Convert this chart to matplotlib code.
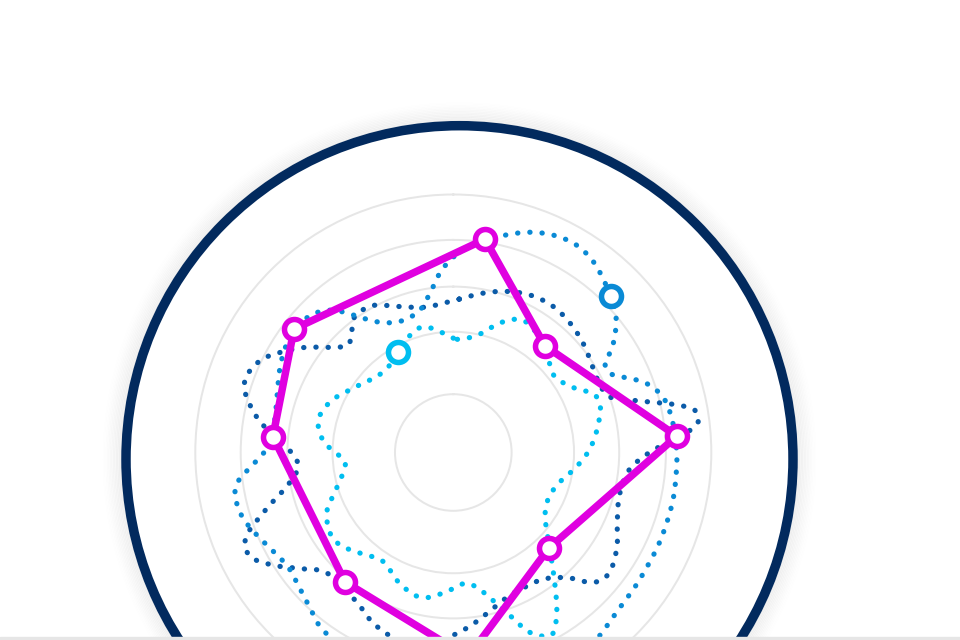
import numpy as np
import matplotlib
matplotlib.use("Agg")
import matplotlib.pyplot as plt
from matplotlib.patches import Circle, Rectangle

# ---------------- data (angle: degrees clockwise from north, value: radial scale) -------------
grid_levels = [22.6, 46.8, 64.3, 82.4, 100.0]

magenta_theta = [8.45, 40.7, 85.8, 134.9, 175.9, 219.9, 275.0, 307.8]
magenta_vals = [83.6, 54.5, 86.9, 52.4, 79.5, 65.4, 70.2, 78.1]

dark_theta = [2.2, 10.5, 18.1, 26.0, 34.2, 42.4, 50.6, 58.4, 66.1, 70.3,
              72.4, 75.2, 77.4, 78.6, 80.2, 82.8, 84.6, 86.3, 88.8, 90.7,
              93.2, 96.6, 104.7, 112.7, 120.1, 127.3, 130.7, 133.4, 137.7, 144.8,
              149.2, 158.3, 167.0, 174.5, 181.3, 190.0, 199.0, 205.7, 212.6, 226.9,
              232.3, 237.1, 241.9, 244.8, 247.8, 251.8, 255.9, 258.2, 264.8, 268.7,
              272.0, 279.1, 284.3, 287.1, 290.1, 295.7, 300.5, 305.3, 309.7, 312.3,
              315.7, 319.7, 323.1, 327.6, 331.7, 339.7, 348.7, 358.1]
dark_vals = [59.5, 62.8, 65.7, 67.9, 68.6, 67.5, 65.6, 63.4, 62.6, 64.2,
             68.6, 77.2, 86.3, 91.0, 95.2, 95.7, 92.2, 88.1, 78.8, 74.7,
             70.9, 67.9, 66.5, 68.9, 73.3, 76.3, 75.8, 73.3, 65.6, 60.1,
             59.3, 59.5, 63.1, 67.6, 71.6, 77.5, 75.2, 72.8, 69.1, 67.9,
             73.7, 81.0, 87.6, 88.8, 86.8, 78.6, 70.3, 66.2, 60.3, 61.7,
             64.9, 75.9, 82.2, 84.7, 85.5, 82.7, 76.9, 70.5, 63.8, 60.6,
             58.3, 60.9, 64.6, 65.5, 64.8, 60.3, 57.4, 58.4]

medium_theta = [1.9, 8.75, 13.1, 19.0, 24.9, 30.8, 36.6, 41.8, 45.2, 50.4,
                55.2, 57.5, 59.5, 63.2, 65.8, 70.0, 75.1, 81.1, 90.0, 95.8,
                101.8, 107.7, 114.0, 120.3, 126.6, 132.9, 138.9, 141.8, 160.0, 180.0,
                200.0, 216.3, 222.3, 228.7, 235.2, 241.7, 247.6, 253.3, 259.4, 262.4,
                264.7, 267.1, 269.8, 272.3, 281.0, 288.6, 295.9, 303.1, 313.1, 319.2,
                324.0, 329.3, 337.5, 346.5, 352.2, 356.4]
medium_vals = [77.8, 83.3, 86.4, 90.3, 92.8, 93.5, 91.6, 88.2, 86.2, 81.9,
               75.8, 72.0, 68.2, 68.1, 71.6, 79.1, 84.0, 85.7, 86.6, 86.8,
               87.1, 87.1, 87.2, 87.2, 87.6, 88.2, 89.9, 90.9, 91.5, 89.9,
               87.6, 85.4, 82.1, 79.4, 77.9, 79.8, 82.8, 85.6, 86.1, 84.1,
               80.7, 77.0, 73.6, 71.1, 70.4, 72.0, 74.7, 77.0, 77.0, 72.9,
               65.9, 59.0, 54.9, 56.5, 63.3, 70.9]
medium_marker_idx = 8

cyan_theta = [2.0, 12.4, 19.8, 27.5, 37.9, 48.6, 53.3, 61.6, 67.5, 71.7,
              80.0, 88.4, 96.6, 105.9, 115.0, 124.0, 132.1, 138.0, 142.8, 147.0,
              151.7, 156.8, 160.3, 164.4, 170.2, 174.5, 182.7, 190.4, 194.6, 202.6,
              213.3, 221.9, 230.0, 235.3, 244.6, 253.0, 264.6, 270.2, 274.6, 283.3,
              292.4, 303.2, 316.2, 323.6, 331.0, 341.0, 346.6, 356.5]
cyan_vals = [43.9, 46.9, 53.4, 57.9, 55.3, 50.3, 49.1, 52.9, 59.0, 59.9,
             56.8, 53.0, 48.1, 42.7, 40.9, 42.9, 49.5, 57.1, 65.3, 73.6,
             80.3, 76.0, 68.0, 60.3, 53.0, 50.9, 54.0, 57.2, 57.4, 54.7,
             50.2, 52.8, 56.4, 57.3, 54.3, 47.3, 42.1, 45.9, 50.3, 53.8,
             51.6, 45.9, 41.6, 41.8, 44.5, 48.9, 50.1, 45.9]
cyan_marker_idx = 44

# ---------------- styles ----------------
PX = 0.72  # points per pixel at dpi 100
C_DARK = "#0B5BA8"
C_MED = "#0A8AD5"
C_CYAN = "#00BEF0"
C_MAG = "#E000E0"
C_NAVY = "#022A5E"
C_GRID = "#E6E6E6"


def to_xy(theta_deg, vals):
    th = np.radians(np.asarray(theta_deg, float))
    v = np.asarray(vals, float)
    return np.column_stack([v * np.sin(th), v * np.cos(th)])


def back_to_polar(xy):
    ang = np.unwrap(np.arctan2(xy[:, 0], xy[:, 1]))
    rad = np.hypot(xy[:, 0], xy[:, 1])
    return ang, rad


def spline_closed(theta_deg, vals, samples=14):
    """Centripetal Catmull-Rom curve through the points (rendering only)."""
    P = to_xy(theta_deg, vals)
    N = len(P)
    out = []
    for i in range(N):
        p0, p1, p2, p3 = P[(i - 1) % N], P[i], P[(i + 1) % N], P[(i + 2) % N]

        def tj(ti, a, b):
            return ti + max(np.hypot(*(b - a)), 1e-6) ** 0.5

        t0 = 0.0
        t1 = tj(t0, p0, p1)
        t2 = tj(t1, p1, p2)
        t3 = tj(t2, p2, p3)
        t = np.linspace(t1, t2, samples, endpoint=False)[:, None]
        A1 = (t1 - t) / (t1 - t0) * p0 + (t - t0) / (t1 - t0) * p1
        A2 = (t2 - t) / (t2 - t1) * p1 + (t - t1) / (t2 - t1) * p2
        A3 = (t3 - t) / (t3 - t2) * p2 + (t - t2) / (t3 - t2) * p3
        B1 = (t2 - t) / (t2 - t0) * A1 + (t - t0) / (t2 - t0) * A2
        B2 = (t3 - t) / (t3 - t1) * A2 + (t - t1) / (t3 - t1) * A3
        out.append((t2 - t) / (t2 - t1) * B1 + (t - t1) / (t2 - t1) * B2)
    out.append(P[:1])
    return back_to_polar(np.vstack(out))


def straight_closed(theta_deg, vals, samples=30):
    P = to_xy(theta_deg, vals)
    N = len(P)
    out = []
    for i in range(N):
        a, b = P[i], P[(i + 1) % N]
        s = np.linspace(0, 1, samples, endpoint=False)[:, None]
        out.append(a + (b - a) * s)
    out.append(P[:1])
    return back_to_polar(np.vstack(out))


fig = plt.figure(figsize=(9.6, 6.4), dpi=100, facecolor="white")

# ---- decorative pane ring (pixel overlay, behind) ----
bg = fig.add_axes([0, 0, 1, 1], zorder=0)
bg.set_xlim(0, 960)
bg.set_ylim(640, 0)
bg.axis("off")
ring_c = (459.5, 459.2)
ring_r = 333.5
for k in range(14):
    bg.add_patch(Circle(ring_c, ring_r + 4.5 + k * 1.5, fill=False,
                        lw=2.0 * PX, ec="black", alpha=0.05 * ((14 - k) / 14) ** 1.5))
bg.add_patch(Circle(ring_c, ring_r, fill=False, lw=9.5 * PX, ec=C_NAVY))

# ---- polar chart ----
cx, cy = 453.3, 452.5          # centre in pixels (from top-left)
rmax = 130.0
px_per_unit = 2.58
R = rmax * px_per_unit
ax = fig.add_axes([(cx - R) / 960, (640 - cy - R) / 640, 2 * R / 960, 2 * R / 640],
                  projection="polar", zorder=1)
ax.set_facecolor("none")
ax.set_theta_zero_location("N")
ax.set_theta_direction(-1)
ax.set_ylim(0, rmax)
ax.set_yticks(grid_levels)
ax.set_yticklabels([])
ax.set_xticks([])
ax.yaxis.grid(True, color=C_GRID, lw=2 * PX)
ax.xaxis.grid(False)
ax.spines["polar"].set_visible(False)

dot_ls = (0, (0.05, 2.3))
for th, vals, col in [(dark_theta, dark_vals, C_DARK),
                      (medium_theta, medium_vals, C_MED),
                      (cyan_theta, cyan_vals, C_CYAN)]:
    a, r = spline_closed(th, vals)
    ax.plot(a, r, color=col, lw=5.2 * PX, ls=dot_ls, dash_capstyle="round", zorder=3)

a, r = straight_closed(magenta_theta, magenta_vals)
ax.plot(a, r, color=C_MAG, lw=7.5 * PX, solid_joinstyle="round", zorder=4)

mk = dict(marker="o", ms=20 * PX, mfc="white", mew=5.5 * PX, ls="none", zorder=5)
ax.plot(np.radians(magenta_theta), magenta_vals, mec=C_MAG, **mk)
ax.plot([np.radians(medium_theta[medium_marker_idx])], [medium_vals[medium_marker_idx]],
        mec=C_MED, **mk)
ax.plot([np.radians(cyan_theta[cyan_marker_idx])], [cyan_vals[cyan_marker_idx]],
        mec=C_CYAN, **mk)

# bottom border strip
fig.add_artist(Rectangle((0, 0), 1, 2.7 / 640, transform=fig.transFigure,
                         color="#E6E6E6", zorder=10))

fig.savefig("out.png", dpi=100, facecolor="white")
